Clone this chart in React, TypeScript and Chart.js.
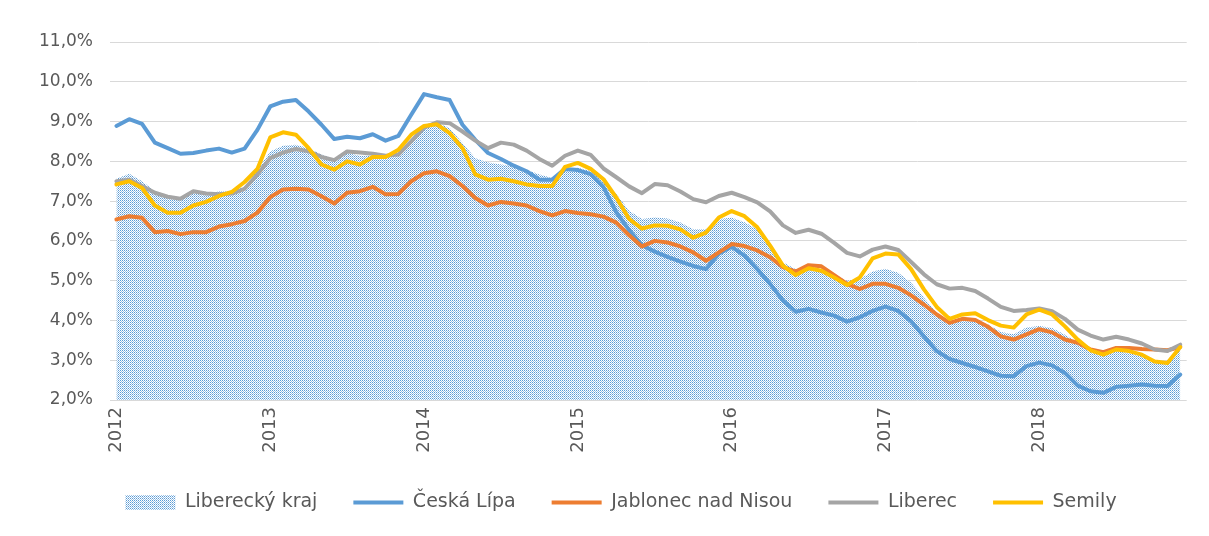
import React, { useEffect, useRef } from "react";
import { Chart, registerables } from "chart.js";

Chart.register(...registerables);

const years = [2012, 2013, 2014, 2015, 2016, 2017, 2018];
const categories: string[] = years.flatMap((y) =>
  ["01", "02", "03", "04", "05", "06", "07", "08", "09", "10", "11", "12"].map((m) => `${y}-${m}`)
);

const seriesNames = ["Liberecký kraj", "Česká Lípa", "Jablonec nad Nisou", "Liberec", "Semily"];
const seriesColors = ["#5B9BD5", "#5B9BD5", "#ED7D31", "#A5A5A5", "#FFC000"];

const libereckyKraj = [
  7.56, 7.69, 7.5, 7.25, 7.13, 7.08, 7.21, 7.17, 7.25, 7.25, 7.36, 7.79,
  8.25, 8.39, 8.42, 8.33, 8.17, 8.06, 8.21, 8.14, 8.14, 8.12, 8.21, 8.54,
  8.87, 8.98, 8.83, 8.46, 8.08, 7.97, 7.92, 7.88, 7.79, 7.67, 7.58, 7.79,
  7.84, 7.76, 7.55, 7.18, 6.76, 6.55, 6.59, 6.56, 6.46, 6.29, 6.29, 6.55,
  6.58, 6.47, 6.29, 5.92, 5.46, 5.29, 5.38, 5.28, 5.14, 5.0, 5.04, 5.23,
  5.3, 5.2, 4.95, 4.57, 4.19, 3.98, 4.07, 4.03, 3.9, 3.71, 3.65, 3.82,
  3.86, 3.81, 3.64, 3.44, 3.27, 3.18, 3.23, 3.18, 3.1, 3.0, 2.97, 3.28,
];

const ceskaLipa = [
  8.89, 9.06, 8.94, 8.47, 8.33, 8.19, 8.21, 8.27, 8.32, 8.22, 8.32, 8.79,
  9.38, 9.5, 9.54, 9.25, 8.92, 8.56, 8.62, 8.58, 8.68, 8.52, 8.64, 9.17,
  9.69, 9.61, 9.54, 8.92, 8.54, 8.21, 8.06, 7.89, 7.75, 7.54, 7.54, 7.81,
  7.78, 7.68, 7.35, 6.72, 6.27, 5.89, 5.73, 5.6, 5.48, 5.37, 5.29, 5.68,
  5.85, 5.63, 5.29, 4.92, 4.5, 4.22, 4.29, 4.2, 4.12, 3.97, 4.08, 4.24,
  4.35, 4.24, 3.98, 3.6, 3.23, 3.03, 2.93, 2.83, 2.72, 2.61, 2.6, 2.85,
  2.94, 2.87, 2.68, 2.36, 2.22, 2.18, 2.33, 2.36, 2.39, 2.36, 2.35, 2.64,
];

const jablonec = [
  6.54, 6.62, 6.58, 6.22, 6.25, 6.17, 6.22, 6.22, 6.36, 6.42, 6.5, 6.71,
  7.1, 7.29, 7.31, 7.29, 7.12, 6.94, 7.21, 7.25, 7.36, 7.17, 7.18, 7.5,
  7.7, 7.75, 7.63, 7.38, 7.08, 6.89, 6.98, 6.94, 6.89, 6.75, 6.64, 6.75,
  6.7, 6.67, 6.61, 6.46, 6.14, 5.86, 6.0, 5.96, 5.86, 5.71, 5.5, 5.71,
  5.92, 5.87, 5.76, 5.59, 5.34, 5.23, 5.39, 5.36, 5.14, 4.92, 4.79, 4.92,
  4.92, 4.82, 4.63, 4.4, 4.15, 3.94, 4.04, 4.01, 3.84, 3.6, 3.52, 3.65,
  3.78, 3.7, 3.52, 3.44, 3.27, 3.2, 3.31, 3.31, 3.28, 3.27, 3.25, 3.33,
];

const liberec = [
  7.5, 7.54, 7.38, 7.21, 7.11, 7.06, 7.25, 7.19, 7.17, 7.19, 7.31, 7.67,
  8.08, 8.22, 8.31, 8.25, 8.11, 8.03, 8.25, 8.22, 8.19, 8.14, 8.17, 8.5,
  8.85, 8.98, 8.96, 8.75, 8.52, 8.33, 8.47, 8.42, 8.27, 8.06, 7.89, 8.14,
  8.27, 8.16, 7.82, 7.6, 7.37, 7.2, 7.43, 7.4, 7.24, 7.05, 6.97, 7.13,
  7.21, 7.1, 6.97, 6.74, 6.39, 6.2, 6.28, 6.18, 5.95, 5.7, 5.61, 5.78,
  5.86, 5.77, 5.47, 5.16, 4.91, 4.8, 4.82, 4.74, 4.55, 4.34, 4.24, 4.26,
  4.3, 4.23, 4.04, 3.77, 3.62, 3.52, 3.59, 3.52, 3.42, 3.27, 3.23, 3.39,
];

const semily = [
  7.42, 7.5, 7.33, 6.89, 6.71, 6.71, 6.89, 6.98, 7.13, 7.23, 7.48, 7.81,
  8.6, 8.73, 8.67, 8.33, 7.92, 7.79, 8.0, 7.92, 8.11, 8.11, 8.29, 8.67,
  8.89, 8.93, 8.71, 8.33, 7.67, 7.54, 7.56, 7.5, 7.42, 7.38, 7.38, 7.86,
  7.96, 7.81, 7.55, 7.09, 6.55, 6.31, 6.39, 6.38, 6.29, 6.08, 6.21, 6.59,
  6.75, 6.62, 6.34, 5.88, 5.38, 5.14, 5.31, 5.25, 5.08, 4.89, 5.08, 5.56,
  5.68, 5.66, 5.29, 4.78, 4.34, 4.04, 4.15, 4.18, 4.01, 3.87, 3.82, 4.15,
  4.27, 4.15, 3.85, 3.52, 3.25, 3.14, 3.27, 3.23, 3.14, 2.97, 2.93, 3.33,
];

const yMin = 2;
const yMax = 11;
const yStep = 1;

const FONT = "'DejaVu Sans', sans-serif";
const TEXT_COLOR = "#595959";

const shiftLegend = {
  id: "shiftLegend",
  afterLayout(chart: any) {
    const l = chart.legend;
    if (l) {
      l.left += 24;
      l.right += 24;
    }
  },
};

export default function App() {
  const canvasRef = useRef<HTMLCanvasElement | null>(null);

  useEffect(() => {
    document.body.style.margin = "0";
    const canvas = canvasRef.current;
    if (!canvas) return;
    const ctx = canvas.getContext("2d")!;

    const pc = document.createElement("canvas");
    pc.width = 2;
    pc.height = 2;
    const pctx = pc.getContext("2d")!;
    pctx.fillStyle = "#ffffff";
    pctx.fillRect(0, 0, 2, 2);
    pctx.fillStyle = "#5B9BD5";
    pctx.fillRect(0, 0, 1, 1);
    pctx.fillStyle = "#9DC3E6";
    pctx.fillRect(1, 1, 1, 1);
    const pattern = ctx.createPattern(pc, "repeat") as CanvasPattern;

    const lineSeries = [ceskaLipa, jablonec, liberec, semily];

    const datasets: any[] = [
      {
        label: seriesNames[0],
        data: libereckyKraj,
        backgroundColor: pattern,
        borderColor: "rgba(0,0,0,0)",
        borderWidth: 0,
        fill: "start",
        pointRadius: 0,
        order: 10,
      },
      ...lineSeries.map((d, i) => ({
        label: seriesNames[i + 1],
        data: d,
        borderColor: seriesColors[i + 1],
        backgroundColor: seriesColors[i + 1],
        borderWidth: 4,
        fill: false,
        pointRadius: 0,
        tension: 0,
        borderJoinStyle: "round",
        borderCapStyle: "round",
        order: 4 - i,
      })),
    ];

    const chart = new Chart(canvas, {
      type: "line",
      data: { labels: categories, datasets },
      plugins: [shiftLegend],
      options: {
        animation: false,
        responsive: true,
        maintainAspectRatio: false,
        layout: { padding: { left: 5, right: 20, top: 42, bottom: 14 } },
        plugins: {
          tooltip: { enabled: false },
          legend: {
            position: "bottom",
            labels: {
              usePointStyle: true,
              pointStyleWidth: 50,
              boxHeight: 15,
              padding: 36,
              color: TEXT_COLOR,
              font: { family: FONT, size: 19 },
              generateLabels: (c: any) =>
                c.data.datasets.map((ds: any, i: number) => ({
                  text: ds.label,
                  fillStyle: i === 0 ? pattern : ds.borderColor,
                  strokeStyle: i === 0 ? "rgba(0,0,0,0)" : ds.borderColor,
                  lineWidth: i === 0 ? 0 : 4,
                  pointStyle: i === 0 ? "rect" : "line",
                  hidden: false,
                  datasetIndex: i,
                  fontColor: TEXT_COLOR,
                  lineCap: "butt",
                })),
            },
          },
        },
        scales: {
          x: {
            type: "category",
            offset: true,
            grid: { display: false, drawTicks: false },
            border: { display: false },
            ticks: {
              autoSkip: false,
              maxRotation: 90,
              minRotation: 90,
              padding: 7,
              color: TEXT_COLOR,
              font: { family: FONT, size: 18 },
              callback: (_v: any, i: number) => (i % 12 === 0 ? categories[i].slice(0, 4) : ""),
            },
            afterFit: (s: any) => {
              s.height = 57;
            },
          },
          y: {
            min: yMin,
            max: yMax,
            grid: { color: "#D9D9D9", lineWidth: 1, drawTicks: false },
            border: { display: false },
            ticks: {
              stepSize: yStep,
              padding: 17,
              color: TEXT_COLOR,
              font: { family: FONT, size: 17 },
              callback: (v: any) => Number(v).toFixed(1).replace(".", ",") + "%",
            },
            afterFit: (s: any) => {
              s.width = 105;
            },
          },
        },
      } as any,
    });

    return () => chart.destroy();
  }, []);

  return (
    <div style={{ width: 1209, height: 536, position: "relative" }}>
      <canvas ref={canvasRef} />
    </div>
  );
}
